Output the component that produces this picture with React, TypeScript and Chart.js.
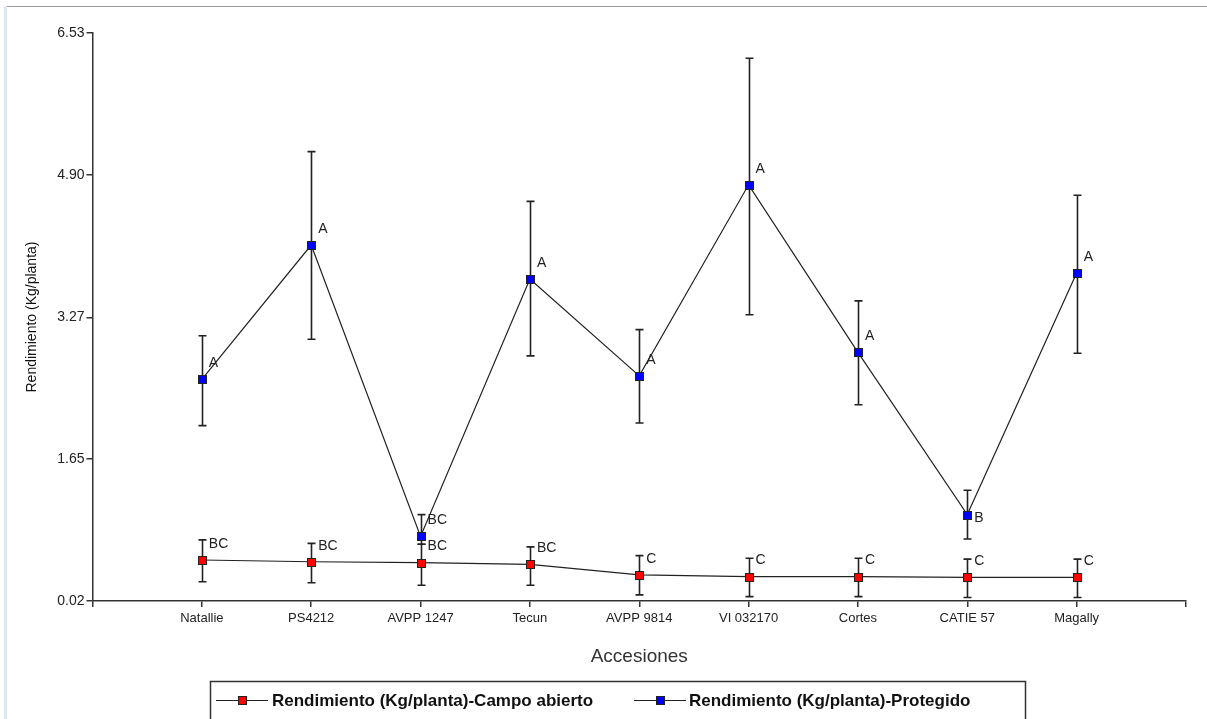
import React, { useEffect, useRef } from "react";
import { Chart, registerables } from "chart.js";

Chart.register(...registerables);

const categories = ["Natallie", "PS4212", "AVPP 1247", "Tecun", "AVPP 9814", "VI 032170", "Cortes", "CATIE 57", "Magally"];
const yTicks = [0.02, 1.65, 3.27, 4.9, 6.53];

const campoValues = [0.49, 0.47, 0.46, 0.44, 0.32, 0.30, 0.30, 0.29, 0.29];
const campoUpper = [0.72, 0.68, 0.67, 0.64, 0.54, 0.51, 0.51, 0.50, 0.50];
const campoLower = [0.24, 0.23, 0.20, 0.20, 0.09, 0.07, 0.07, 0.06, 0.06];
const campoLetters = ["BC", "BC", "BC", "BC", "C", "C", "C", "C", "C"];

const protValues = [2.56, 4.10, 0.76, 3.71, 2.60, 4.79, 2.87, 1.01, 3.78];
const protUpper = [3.06, 5.17, 1.01, 4.60, 3.13, 6.24, 3.46, 1.29, 4.67];
const protLower = [2.03, 3.02, 0.67, 2.83, 2.06, 3.30, 2.27, 0.73, 2.86];
const protLetters = ["A", "A", "BC", "A", "A", "A", "A", "B", "A"];
const protLetterBelow = [false, false, false, false, false, false, false, true, false];

const seriesNames = ["Rendimiento (Kg/planta)-Campo abierto", "Rendimiento (Kg/planta)-Protegido"];

const FONT = "Arial, 'Liberation Sans', sans-serif";

const errorPlugin = {
  id: "errorBarsLetters",
  afterDatasetsDraw(chart: any) {
    const ctx = chart.ctx;
    const xs = chart.scales.x;
    const ys = chart.scales.y;
    const groups = [
      { up: campoUpper, lo: campoLower, val: campoValues },
      { up: protUpper, lo: protLower, val: protValues },
    ];
    ctx.save();
    ctx.strokeStyle = "#222";
    ctx.lineWidth = 1.6;
    groups.forEach((g) => {
      g.val.forEach((_v: number, i: number) => {
        const x = Math.round(xs.getPixelForValue(i + 1)) + 0.5;
        const yt = ys.getPixelForValue(g.up[i]);
        const yb = ys.getPixelForValue(g.lo[i]);
        ctx.beginPath();
        ctx.moveTo(x, yt);
        ctx.lineTo(x, yb);
        ctx.moveTo(x - 4, yt);
        ctx.lineTo(x + 4, yt);
        ctx.moveTo(x - 4, yb);
        ctx.lineTo(x + 4, yb);
        ctx.stroke();
      });
    });
    ctx.restore();
  },
  afterDraw(chart: any) {
    const ctx = chart.ctx;
    const xs = chart.scales.x;
    const ys = chart.scales.y;
    ctx.save();
    const sets = [
      { val: campoValues, color: "#ff0000" },
      { val: protValues, color: "#0000ff" },
    ];
    sets.forEach((s) => {
      s.val.forEach((v: number, i: number) => {
        const x = Math.round(xs.getPixelForValue(i + 1));
        const y = Math.round(ys.getPixelForValue(v));
        ctx.fillStyle = s.color;
        ctx.fillRect(x - 4, y - 4, 9, 9);
        ctx.strokeStyle = "#222";
        ctx.lineWidth = 1;
        ctx.strokeRect(x - 3.5, y - 3.5, 8, 8);
      });
    });
    ctx.fillStyle = "#222";
    ctx.font = "14px " + FONT;
    ctx.textAlign = "left";
    ctx.textBaseline = "middle";
    const lg = [
      { val: campoValues, let: campoLetters, below: campoValues.map(() => false) },
      { val: protValues, let: protLetters, below: protLetterBelow },
    ];
    lg.forEach((g) => {
      g.val.forEach((v: number, i: number) => {
        const x = xs.getPixelForValue(i + 1);
        const y = ys.getPixelForValue(v);
        ctx.fillText(g.let[i], x + 7, g.below[i] ? y + 4 : y - 16);
      });
    });
    // legend
    const lx = 210.5, ly = 681.5, rx = 1025.5;
    ctx.strokeStyle = "#333";
    ctx.lineWidth = 1.5;
    ctx.strokeRect(lx, ly, rx - lx, 45);
    const items = [
      { x0: 216, color: "#ff0000", tx: 272 },
      { x0: 634, color: "#0000ff", tx: 689 },
    ];
    ctx.font = "bold 17px " + FONT;
    ctx.textBaseline = "middle";
    items.forEach((it, k) => {
      const cy = 700.5;
      ctx.strokeStyle = "#222";
      ctx.lineWidth = 1;
      ctx.beginPath();
      ctx.moveTo(it.x0, cy);
      ctx.lineTo(it.x0 + 52, cy);
      ctx.stroke();
      const mx = it.x0 + 26;
      ctx.fillStyle = it.color;
      ctx.fillRect(mx - 4, cy - 4.5, 9, 9);
      ctx.strokeStyle = "#222";
      ctx.strokeRect(mx - 3.5, cy - 4, 8, 8);
      ctx.fillStyle = "#111";
      ctx.fillText(seriesNames[k], it.tx, cy + 1);
    });
    ctx.restore();
  },
};

export default function App() {
  const ref = useRef<HTMLCanvasElement>(null);
  useEffect(() => {
    document.body.style.margin = "0";
    const toXY = (arr: number[]) => arr.map((v, i) => ({ x: i + 1, y: v }));
    const chart = new Chart(ref.current!, {
      type: "line",
      data: {
        datasets: [
          {
            label: seriesNames[0],
            data: toXY(campoValues),
            borderColor: "#222",
            borderWidth: 1.2,
            pointRadius: 0,
            tension: 0,
          },
          {
            label: seriesNames[1],
            data: toXY(protValues),
            borderColor: "#222",
            borderWidth: 1.2,
            pointRadius: 0,
            tension: 0,
          },
        ],
      },
      options: {
        responsive: false,
        animation: false,
        layout: { padding: { left: 20, top: 33, right: 21, bottom: 47 } },
        plugins: { legend: { display: false }, tooltip: { enabled: false } },
        scales: {
          x: {
            type: "linear",
            min: 0,
            max: 10,
            afterFit: (s: any) => {
              s.height = 71;
            },
            afterBuildTicks: (s: any) => {
              s.ticks = [0, 1, 2, 3, 4, 5, 6, 7, 8, 9, 10].map((v) => ({ value: v }));
            },
            ticks: {
              autoSkip: false,
              maxRotation: 0,
              padding: 4,
              color: "#222",
              font: { size: 13, family: FONT },
              callback: (v: any) => {
                const n = Number(v);
                return n >= 1 && n <= 9 ? categories[n - 1] : "";
              },
            },
            grid: { drawOnChartArea: false, drawTicks: true, tickLength: 6, color: "#333", lineWidth: 1.5 },
            border: { display: true, color: "#333", width: 1.5 },
            title: {
              display: true,
              text: "Accesiones",
              color: "#333",
              font: { size: 19, family: FONT },
              padding: { top: 4, bottom: 4 },
            },
          },
          y: {
            type: "linear",
            min: 0.02,
            max: 6.53,
            afterFit: (s: any) => {
              s.width = 72.5;
            },
            afterBuildTicks: (s: any) => {
              s.ticks = yTicks.map((v) => ({ value: v }));
            },
            ticks: {
              padding: 2,
              color: "#222",
              font: { size: 14, family: FONT },
              callback: (v: any) => Number(v).toFixed(2),
            },
            grid: { drawOnChartArea: false, drawTicks: true, tickLength: 6, color: "#333", lineWidth: 1.5 },
            border: { display: true, color: "#333", width: 1.5 },
            title: {
              display: true,
              text: "Rendimiento (Kg/planta)",
              color: "#111",
              font: { size: 14, family: FONT },
              padding: { top: 4, bottom: 4 },
            },
          },
        },
      },
      plugins: [errorPlugin],
    });
    return () => chart.destroy();
  }, []);
  return (
    <div style={{ position: "relative", width: 1207, height: 719, overflow: "hidden", background: "#fff" }}>
      <canvas ref={ref} width={1207} height={719} style={{ position: "absolute", left: 0, top: 0, display: "block" }} />
      <div style={{ position: "absolute", left: 4, top: 6, width: 1203, height: 1, background: "#9a9a9a" }} />
      <div style={{ position: "absolute", left: 4, top: 6, width: 3, height: 713, background: "#dce7f3" }} />
    </div>
  );
}
